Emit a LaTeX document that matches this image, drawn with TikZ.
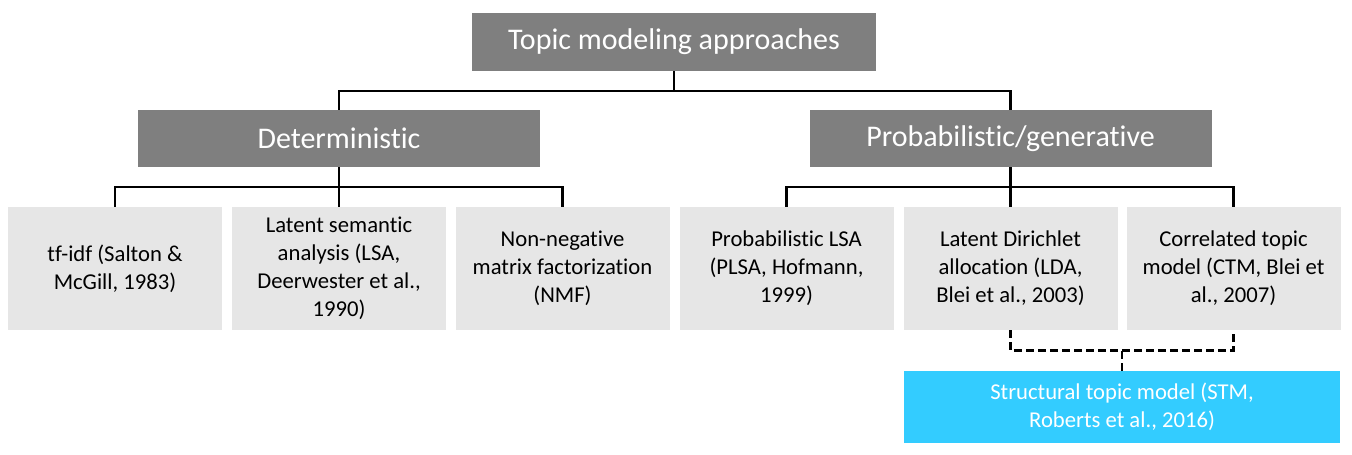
\documentclass[tikz,border=0pt]{standalone}
\usepackage{fontspec}
\setmainfont{Carlito}[RawFeature={-liga;-clig;-calt;-dlig}]
\usetikzlibrary{calc}
\definecolor{headgray}{HTML}{7F7F7F}
\definecolor{leafgray}{HTML}{E6E6E6}
\definecolor{stmblue}{HTML}{33CCFF}
\begin{document}
\begin{tikzpicture}[x=0.75pt,y=-0.75pt,
  headbox/.style={fill=headgray,text=white,inner sep=0pt,align=center,
    font=\fontsize{22.5}{27}\selectfont},
  leafbox/.style={fill=leafgray,text=black,inner sep=0pt,align=center,
    minimum width=160.5pt,minimum height=92.25pt,
    font=\fontsize{17}{21}\selectfont},
  link/.style={line width=1.6pt},
  dlink/.style={line width=2pt,dash pattern=on 6pt off 3pt}]
\useasboundingbox (0,0) rectangle (1352,454);
% heading boxes
\node[headbox,minimum width=303pt,minimum height=43.5pt] (top) at (674,42) {Topic modeling approaches};
\node[headbox,minimum width=301.5pt,minimum height=42.75pt] (det) at (339,138.5) {Deterministic};
\node[headbox,minimum width=301.5pt,minimum height=42.75pt] (prob) at (1010.5,138.5) {Probabilistic/generative};
% leaf boxes
\node[leafbox] (tfidf) at (115,268.5) {tf-idf (Salton \&\\McGill, 1983)};
\node[leafbox] (lsa) at (339,268.5) {Latent semantic\\analysis (LSA,\\Deerwester et al.,\\1990)};
\node[leafbox] (nmf) at (562.5,268.5) {Non-negative\\matrix factorization\\(NMF)};
\node[leafbox] (plsa) at (786.5,268.5) {Probabilistic LSA\\(PLSA, Hofmann,\\1999)};
\node[leafbox] (lda) at (1010.5,268.5) {Latent Dirichlet\\allocation (LDA,\\Blei et al., 2003)};
\node[leafbox] (ctm) at (1233.5,268.5) {Correlated topic\\model (CTM, Blei et\\al., 2007)};
\node[fill=stmblue,text=white,inner sep=0pt,align=center,
  minimum width=327pt,minimum height=54pt,
  font=\fontsize{17}{21}\selectfont] (stm) at (1122,407) {Structural topic model (STM,\\Roberts et al., 2016)};
% tree connectors
\draw[link] (top.south) -- ++(0,19.5) -| (det.north);
\draw[link] (top.south) -- ++(0,19.5) -| (prob.north);
\foreach \leaf in {tfidf,lsa,nmf}
  \draw[link] (det.south) -- ++(0,20) -| (\leaf.north);
\foreach \leaf in {plsa,lda,ctm}
  \draw[link] (prob.south) -- ++(0,20) -| (\leaf.north);
% dashed link to the structural topic model
\coordinate (dj) at ($(stm.north)+(0,-20)$);
\draw[dlink] (lda.south) |- (dj) -| (ctm.south);
\draw[dlink] (stm.north) -- (dj);
\end{tikzpicture}
\end{document}
